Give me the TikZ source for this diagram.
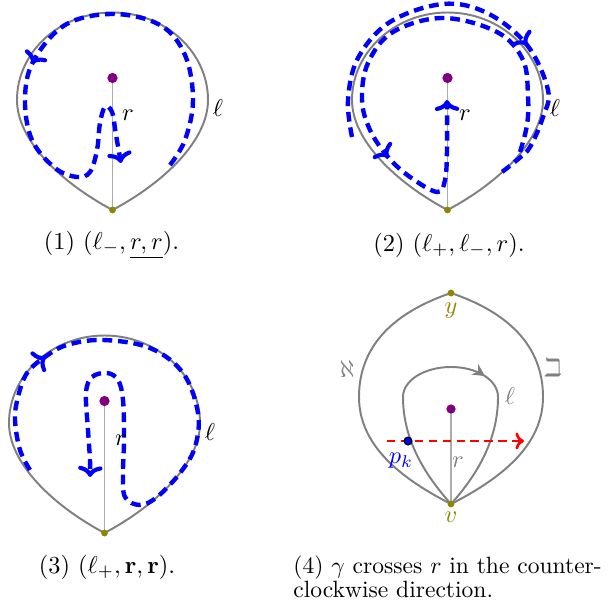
\documentclass[tikz,border=0pt]{standalone}
\usepackage{amssymb}
\usetikzlibrary{decorations.markings,arrows.meta}
\definecolor{mypurple}{RGB}{128,0,128}
\definecolor{lgray}{RGB}{128,128,128}
\begin{document}
\begin{tikzpicture}[x=0.41pt,y=-0.41pt,
  loopline/.style={draw=lgray, line width=0.8pt},
  rline/.style={draw=gray!65, line width=0.8pt},
  bpath/.style={draw=blue, line width=1.8pt, dash pattern=on 4pt off 2.4pt},
  cmtip/.style={-{Computer Modern Rightarrow[length=4.5pt,width=10pt,line width=1.7pt,round]}},
  marr/.style={postaction={decorate}, decoration={markings, mark=at position #1 with {\arrow{Computer Modern Rightarrow[length=4.5pt,width=10pt,line width=1.7pt,round]}}}},
  cdot/.style={circle, fill=mypurple, inner sep=0pt, minimum size=4.2pt},
  vdot/.style={circle, fill=olive, inner sep=0pt, minimum size=2.8pt},
  drop/.pic={\draw[loopline] (112.5,210) .. controls (60,182) and (17,140) .. (17,100) .. controls (17,52) and (60,12.5) .. (112.5,12.5) .. controls (165,12.5) and (208,52) .. (208,100) .. controls (208,140) and (165,182) .. (112.5,210);}
]
\useasboundingbox (0,0) rectangle (609,613);

% ---------- panel 1
\coordinate (c1) at (112.5,78); \coordinate (v1) at (112.5,210);
\draw[rline] (c1) -- (v1);
\pic at (0,0) {drop};
\draw[bpath, marr=0.52, cmtip] plot[smooth, tension=0.6] coordinates {(170,165) (185,140) (193,100) (185,55) (160,25) (113,14) (65,25) (33,62) (25,100) (32,140) (55,168) (77,177) (90,172) (97,150) (100,123) (105,107) (112,112) (116,135) (121,163)};
\node[cdot] (d1) at (c1) {};
\node[vdot] (e1) at (v1) {};
\node (l1) at (218,108) {$\ell$};
\node (r1) at (128,115) {$r$};
\node (cap1) at (111.5,245) {(1) $(\ell_-, \underline{r, r})$.};

% ---------- panel 2
\coordinate (c2) at (447.5,78); \coordinate (v2) at (447.5,210);
\draw[rline] (c2) -- (v2);
\pic at (335,0) {drop};
\draw[bpath, marr=0.656] plot[smooth, tension=0.6] coordinates {(352,137) (348,100) (358,58) (390,22) (443,4) (487,13) (527,45) (548,90) (543,117) (530,147) (517,160) (502,172)};
\draw[bpath, marr=0.71, cmtip] plot[smooth, tension=0.6] coordinates {(520,152) (527,125) (528,97) (523,60) (497,32) (443,18) (393,32) (368,63) (362,100) (370,130) (388,157) (410,177) (437,192) (445,180) (447,150) (447,100)};
\node[cdot] (d2) at (c2) {};
\node[vdot] (e2) at (v2) {};
\node (l2) at (555,108) {$\ell$};
\node (r2) at (465,115) {$r$};
\node (cap2) at (449,245) {(2) $(\ell_+, \ell_-, r)$.};

% ---------- panel 3
\coordinate (c3) at (104.5,401); \coordinate (v3) at (104.5,533);
\draw[rline] (c3) -- (v3);
\pic at (-8,323) {drop};
\draw[bpath, marr=0.18, cmtip] plot[smooth, tension=0.6] coordinates {(30,470) (20,450) (15,420) (18,397) (27,373) (45,357) (67,345) (103,340) (150,348) (183,373) (198,413) (195,447) (180,473) (157,497) (140,505) (125,497) (123,473) (124,440) (123,400) (118,380) (107,373) (92,377) (86,393) (88,430) (90,460) (90,477)};
\node[cdot] (d3) at (c3) {};
\node[vdot] (e3) at (v3) {};
\node (l3) at (210,432) {$\ell$};
\node (r3) at (121,440) {$r$};
\node (cap3) at (107,567) {(3) $(\ell_+, \mathbf{r}, \mathbf{r})$.};

% ---------- panel 4
\coordinate (y) at (451,293); \coordinate (v) at (451,504);
\coordinate (c4) at (451,409); \coordinate (pk) at (408,441);
\coordinate (rs) at (387,441); \coordinate (re) at (524,441);
\draw[loopline] (v) .. controls (400,478) and (359,445) .. (359,397) .. controls (359,345) and (395,312) .. (y) .. controls (507,312) and (543,345) .. (543,397) .. controls (543,445) and (502,478) .. (v);
\draw[loopline, postaction={decorate}, decoration={markings, mark=at position 0.6 with {\arrow{Stealth[length=5pt,width=5pt]}}}] (v) .. controls (425,475) and (403,440) .. (403,397) .. controls (403,380) and (425,367) .. (451,367) .. controls (477,367) and (498,380) .. (498,397) .. controls (498,440) and (477,475) .. (v);
\draw[rline] (c4) -- (v);
\draw[red, line width=1.1pt, dash pattern=on 3.4pt off 2.3pt, -{Computer Modern Rightarrow[length=3.5pt,width=7pt,line width=1.1pt]}] (rs) -- (re);
\node[cdot, minimum size=3.8pt] (d4) at (c4) {};
\node[vdot] (ny) at (y) {};
\node[vdot] (nv) at (v) {};
\node[circle, fill=blue, draw=black, line width=0.5pt, inner sep=0pt, minimum size=3.2pt] (npk) at (pk) {};
\node[olive] (ly) at (451,311) {$y$};
\node[olive] (lv) at (451,517) {$v$};
\node[lgray] (la) at (347,369) {$\aleph$};
\node[lgray] (lb) at (553,368) {$\beth$};
\node[lgray] (l4) at (510,396) {$\ell$};
\node[lgray] (r4) at (458,462) {$r$};
\node[blue] (lpk) at (401,461) {$p_k$};
\node[anchor=base west, inner sep=0pt, scale=0.965] (cap4a) at (293,573) {(4) $\gamma$ crosses $r$ in the counter-};
\node[anchor=base west, inner sep=0pt, scale=0.965] (cap4b) at (293,597) {clockwise direction.};
\end{tikzpicture}
\end{document}
